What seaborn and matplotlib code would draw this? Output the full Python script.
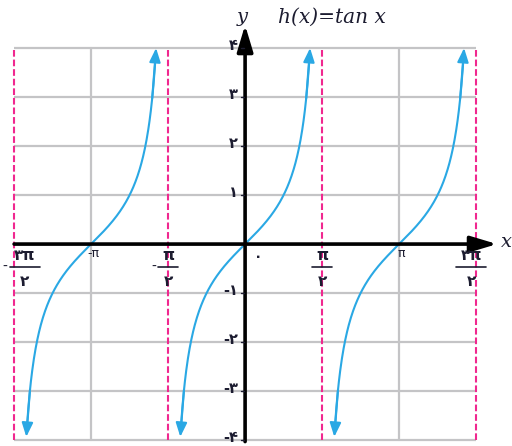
import numpy as np
import pandas as pd
import matplotlib
matplotlib.use("Agg")
import matplotlib.pyplot as plt
import seaborn as sns

# Function branches of h(x) = tan x, centred on these x values
branch_centers = [-np.pi, 0.0, np.pi]
y_limit = 4.0

# Tick values and labels (Persian digits)
y_ticks = [-4, -3, -2, -1, 1, 2, 3, 4]
y_labels = ["-۴", "-۳", "-۲", "-۱", "۱", "۲", "۳", "۴"]
asymptotes = [-1.5 * np.pi, -0.5 * np.pi, 0.5 * np.pi, 1.5 * np.pi]
frac_labels = [("-", "۳π", "۲"), ("-", "π", "۲"), ("", "π", "۲"), ("", "۳π", "۲")]
pi_ticks = [-np.pi, np.pi]
pi_labels = ["-π", "π"]

BLUE = "#2aa8e4"
PINK = "#f0288f"
GRID = "#c4c4c6"
INK = "#1c1c30"

sns.set_style("white")
plt.rcParams["font.family"] = ["DejaVu Sans"]

fig = plt.figure(figsize=(5.12, 4.46), dpi=100)
ax = fig.add_axes([0, 0, 1, 1])
ax.set_xlim(-5.0, 5.445)
ax.set_ylim(-4.12, 4.98)
ax.axis("off")

x_left, x_right = -1.5 * np.pi, 1.5 * np.pi

# grid
for v in range(-4, 5):
    ax.plot([x_left, x_right], [v, v], color=GRID, lw=1.6, zorder=1, solid_capstyle="butt")
for v in pi_ticks:
    ax.plot([v, v], [-4, 4], color=GRID, lw=1.6, zorder=1)

# asymptotes
for a in asymptotes:
    ax.plot([a, a], [-4, 4], color=PINK, lw=1.5, ls=(0, (3.2, 1.4)), zorder=2)

# curves
reach = np.arctan(y_limit)
frames = []
for i, c in enumerate(branch_centers):
    t = np.linspace(c - reach * 0.985, c + reach * 0.985, 300)
    frames.append(pd.DataFrame({"x": t, "y": np.tan(t), "branch": i}))
df = pd.concat(frames, ignore_index=True)
sns.lineplot(data=df, x="x", y="y", units="branch", estimator=None, sort=False,
             color=BLUE, lw=1.5, ax=ax, zorder=3, legend=False)

arrow_kw = dict(arrowstyle="-|>,head_length=0.6,head_width=0.24", color=BLUE,
                lw=1.5, shrinkA=0, shrinkB=0, mutation_scale=14)
for c in branch_centers:
    for s in (1, -1):
        x_tip = c + s * reach * (1.0 if s > 0 else 0.997)
        x_from = c + s * reach * 0.94
        ax.annotate("", xy=(x_tip, np.tan(x_tip)), xytext=(x_from, np.tan(x_from)),
                    arrowprops=arrow_kw, zorder=4)

# axes with arrow heads
axis_kw = dict(arrowstyle="-|>,head_length=1.0,head_width=0.3", color="black",
               lw=2.6, shrinkA=0, shrinkB=0, mutation_scale=16)
ax.annotate("", xy=(5.14, 0), xytext=(x_left, 0), arrowprops=axis_kw, zorder=5)
ax.annotate("", xy=(0, 4.47), xytext=(0, -4.03), arrowprops=axis_kw, zorder=5)

# y tick marks and labels
for v, lab in zip(y_ticks, y_labels):
    ax.plot([-0.09, -0.03], [v, v], color=INK, lw=1.0, zorder=5)
    ax.text(-0.14, v + 0.06, lab, ha="right", va="center", fontsize=10.5, color=INK,
            fontweight="bold", zorder=6)

# x labels
ax.text(0.27, -0.27, "۰", ha="center", va="center", fontsize=10, color=INK,
        fontweight="bold", zorder=6)
for v, lab in zip(pi_ticks, pi_labels):
    ax.text(v + 0.05, -0.2, lab, ha="center", va="center", fontsize=9, color=INK, zorder=6)

for a, (sign, num, den) in zip(asymptotes, frac_labels):
    cx = a
    if a < -4:
        cx = a + 0.22
    elif a > 4:
        cx = a - 0.1
    w = 0.3 if len(num) > 1 else 0.2
    ax.text(cx, -0.23, num, ha="center", va="center", fontsize=11, color=INK,
            fontweight="bold", zorder=6)
    ax.plot([cx - w, cx + w], [-0.46, -0.46], color=INK, lw=1.2, zorder=6)
    ax.text(cx, -0.77, den, ha="center", va="center", fontsize=11, color=INK,
            fontweight="bold", zorder=6)
    if sign:
        ax.text(cx - w - 0.05, -0.46, sign, ha="right", va="center", fontsize=10,
                color=INK, zorder=6)

# axis names and title
ax.text(-0.05, 4.63, "y", ha="center", va="center", fontsize=14, style="italic",
        family="DejaVu Serif", color=INK)
ax.text(5.33, 0.05, "x", ha="center", va="center", fontsize=14, style="italic",
        family="DejaVu Serif", color=INK)
ax.text(0.68, 4.63, "h(x)=tan x", ha="left", va="center", fontsize=14.5, style="italic",
        family="DejaVu Serif", color=INK)

fig.savefig("out.png", dpi=100, facecolor="white")
